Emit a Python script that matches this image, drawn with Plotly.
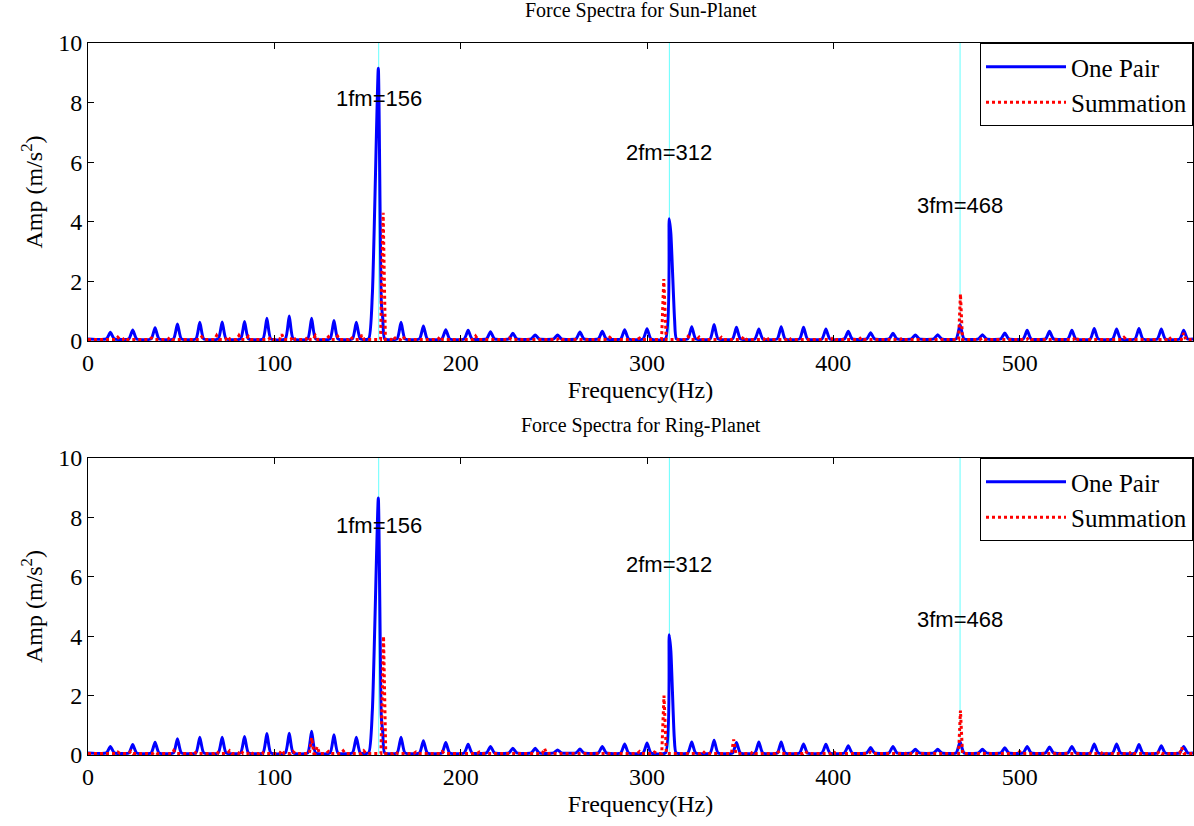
import plotly.graph_objects as go

# ---------------- data ----------------
X_MAX = 593

# sideband peak frequencies (Hz), excluding the mesh harmonics
sideband_freq = [12, 24, 36, 48, 60, 72, 84, 96, 108, 120, 132, 144,
                 168, 180, 192, 204, 216, 228, 240, 252, 264, 276, 288, 300,
                 324, 336, 348, 360, 372, 384, 396, 408, 420, 432, 444, 456, 468,
                 480, 492, 504, 516, 528, 540, 552, 564, 576, 588]

sun_one_sideband_amp = [0.29, 0.37, 0.44, 0.57, 0.63, 0.64, 0.65, 0.76, 0.84, 0.76, 0.69, 0.63,
                        0.63, 0.50, 0.38, 0.36, 0.31, 0.26, 0.20, 0.20, 0.30, 0.33, 0.38, 0.41,
                        0.48, 0.55, 0.46, 0.40, 0.48, 0.46, 0.40, 0.33, 0.28, 0.26, 0.20, 0.21, 0.55,
                        0.21, 0.27, 0.36, 0.33, 0.36, 0.42, 0.40, 0.42, 0.40, 0.36]

ring_one_sideband_amp = [0.29, 0.35, 0.43, 0.55, 0.60, 0.60, 0.62, 0.72, 0.73, 0.80, 0.68, 0.60,
                         0.60, 0.48, 0.42, 0.36, 0.29, 0.23, 0.23, 0.17, 0.20, 0.29, 0.37, 0.40,
                         0.44, 0.50, 0.42, 0.44, 0.44, 0.37, 0.36, 0.31, 0.25, 0.29, 0.19, 0.19, 0.45,
                         0.19, 0.24, 0.29, 0.27, 0.29, 0.37, 0.37, 0.35, 0.31, 0.29]

# main mesh-harmonic peaks (vertices) - One Pair
sun_one_main_freq = [[150.6, 152.6, 155.8, 157.4, 158.2, 159.2],
                     [309.9, 311.9, 312.8, 314.8, 315.8]]
sun_one_main_amp = [[0.07, 1.57, 9.15, 1.30, 0.75, 0.07],
                    [0.07, 4.10, 3.60, 0.70, 0.07]]
ring_one_main_freq = [[150.6, 152.6, 155.8, 157.4, 158.2, 159.2],
                      [309.9, 311.9, 312.8, 314.6, 315.6]]
ring_one_main_amp = [[0.07, 1.50, 8.65, 1.30, 0.75, 0.07],
                     [0.07, 4.05, 3.50, 0.60, 0.07]]

# main peaks (vertices) - Summation
sun_sum_main_freq = [[157.0, 158.4, 159.6], [307.8, 309.0, 310.3], [467.2, 468.2, 469.3]]
sun_sum_main_amp = [[0.05, 4.30, 0.05], [0.05, 2.08, 0.05], [0.05, 1.58, 0.05]]
ring_sum_main_freq = [[157.2, 158.6, 159.8], [307.9, 309.1, 310.4], [467.2, 468.2, 469.3]]
ring_sum_main_amp = [[0.05, 4.00, 0.05], [0.05, 2.00, 0.05], [0.05, 1.50, 0.05]]

# small bumps of the Summation spectra
sun_sum_bump_freq = [16, 20, 34, 44, 61, 69, 75, 81, 86, 98, 104, 110, 118, 122, 129, 134, 141, 147,
                     164, 169, 189, 208, 226, 253, 280, 296, 322, 328, 340, 352, 364, 376, 400,
                     415, 437, 480, 505, 530, 556, 580, 588]
sun_sum_bump_amp = [0.13, 0.12, 0.10, 0.12, 0.14, 0.18, 0.15, 0.18, 0.15, 0.12, 0.22, 0.15, 0.14, 0.18,
                    0.14, 0.16, 0.14, 0.20, 0.15, 0.15, 0.15, 0.16, 0.10, 0.10, 0.12, 0.10, 0.15, 0.13,
                    0.12, 0.15, 0.14, 0.12, 0.12, 0.12, 0.10, 0.10, 0.12, 0.14, 0.12, 0.14, 0.27]
ring_sum_bump_freq = [16, 23, 36, 46, 57, 69, 76, 82, 87, 93, 104, 110, 120, 123, 129, 137, 148,
                      165, 176, 190, 210, 245, 296, 304, 330, 346.5, 357, 370, 385, 400, 420, 440,
                      500, 520, 545, 560, 575, 587]
ring_sum_bump_amp = [0.10, 0.13, 0.10, 0.15, 0.12, 0.12, 0.14, 0.15, 0.12, 0.12, 0.16, 0.12, 0.58, 0.28,
                     0.12, 0.14, 0.14, 0.10, 0.10, 0.12, 0.10, 0.22, 0.12, 0.10, 0.12, 0.52, 0.12, 0.14,
                     0.12, 0.12, 0.10, 0.10, 0.12, 0.10, 0.12, 0.12, 0.12, 0.25]

one_pair_base = 0.07
sum_base = 0.05

harmonic_freq = [156, 312, 468]
harmonic_labels = ["1fm=156", "2fm=312", "3fm=468"]
sun_label_amp = [8.15, 6.33, 4.55]
ring_label_amp = [7.74, 6.43, 4.55]

y_ticks = [0, 2, 4, 6, 8, 10]
x_ticks = [0, 100, 200, 300, 400, 500]


def build(peak_f, peak_a, hw, main_f, main_a, base):
    verts = [(0.0, base), (float(X_MAX), base)]
    for f, a in zip(peak_f, peak_a):
        verts += [(f - hw, base), (f, a), (f + hw, base)]
    for mf, ma in zip(main_f, main_a):
        verts += list(zip(mf, ma))
    verts.sort(key=lambda v: v[0])
    return [v[0] for v in verts], [v[1] for v in verts]


sun_one_x, sun_one_y = build(sideband_freq, sun_one_sideband_amp, 2.1,
                             sun_one_main_freq, sun_one_main_amp, one_pair_base)
ring_one_x, ring_one_y = build(sideband_freq, ring_one_sideband_amp, 2.1,
                               ring_one_main_freq, ring_one_main_amp, one_pair_base)
sun_sum_x, sun_sum_y = build(sun_sum_bump_freq, sun_sum_bump_amp, 1.2,
                             sun_sum_main_freq, sun_sum_main_amp, sum_base)
ring_sum_x, ring_sum_y = build(ring_sum_bump_freq, ring_sum_bump_amp, 1.2,
                               ring_sum_main_freq, ring_sum_main_amp, sum_base)

# ---------------- figure ----------------
SERIF = "Liberation Serif"
SANS = "Liberation Sans"
BLUE = "#0000FF"
RED = "#FF0000"

blue_line = dict(color=BLUE, width=3, shape="spline", smoothing=0.5)
red_line = dict(color=RED, width=3, dash="3px,3px")

fig = go.Figure()
fig.add_trace(go.Scatter(x=sun_one_x, y=sun_one_y, mode="lines", name="One Pair",
                         line=blue_line, xaxis="x", yaxis="y", legend="legend"))
fig.add_trace(go.Scatter(x=sun_sum_x, y=sun_sum_y, mode="lines", name="Summation",
                         line=red_line, xaxis="x", yaxis="y", legend="legend"))
fig.add_trace(go.Scatter(x=ring_one_x, y=ring_one_y, mode="lines", name="One Pair",
                         line=blue_line, xaxis="x2", yaxis="y2", legend="legend2"))
fig.add_trace(go.Scatter(x=ring_sum_x, y=ring_sum_y, mode="lines", name="Summation",
                         line=red_line, xaxis="x2", yaxis="y2", legend="legend2"))


def axis(**kw):
    d = dict(showline=True, linecolor="black", linewidth=1, mirror="ticks",
             ticks="inside", ticklen=6, tickcolor="black", showgrid=False, zeroline=False,
             tickfont=dict(family=SERIF, size=24, color="black"))
    d.update(kw)
    return d


top_dom = [0.5815, 1.0]
bot_dom = [0.0, 0.4171]
title_font = dict(family=SERIF, size=24, color="black")
legend_common = dict(x=1, xanchor="right", yanchor="top", bgcolor="white",
                     bordercolor="black", borderwidth=1, itemwidth=80,
                     font=dict(family=SERIF, size=25, color="black"), tracegroupgap=0)

fig.update_layout(
    width=1194, height=826,
    margin=dict(l=88, r=1, t=43, b=71),
    paper_bgcolor="white", plot_bgcolor="white",
    xaxis=axis(range=[0, X_MAX], tickvals=x_ticks, domain=[0, 1], anchor="y",
               title=dict(text="Frequency(Hz)", font=title_font, standoff=6)),
    yaxis=axis(range=[0, 10], tickvals=y_ticks, domain=top_dom, anchor="x",
               title=dict(text="Amp (m/s<sup>2</sup>)", font=title_font, standoff=8)),
    xaxis2=axis(range=[0, X_MAX], tickvals=x_ticks, domain=[0, 1], anchor="y2",
                title=dict(text="Frequency(Hz)", font=title_font, standoff=6)),
    yaxis2=axis(range=[0, 10], tickvals=y_ticks, domain=bot_dom, anchor="x2",
                title=dict(text="Amp (m/s<sup>2</sup>)", font=title_font, standoff=8)),
    legend=dict(y=top_dom[1], **legend_common),
    legend2=dict(y=bot_dom[1], **legend_common),
    showlegend=True,
)

# harmonic marker lines
for xa, ya in (("x", "y"), ("x2", "y2")):
    for f in harmonic_freq:
        fig.add_shape(type="line", xref=xa, yref=ya + " domain", x0=f, x1=f, y0=0, y1=1,
                      line=dict(color="#66FFFF", width=1), layer="below")

# harmonic labels
for xa, ya, amps in (("x", "y", sun_label_amp), ("x2", "y2", ring_label_amp)):
    for f, lab, a in zip(harmonic_freq, harmonic_labels, amps):
        fig.add_annotation(x=f, y=a, xref=xa, yref=ya, text=lab, showarrow=False,
                           font=dict(family=SANS, size=22, color="black"))

# subplot titles
for xa, ya, txt in (("x", "y", "Force Spectra for Sun-Planet"), ("x2", "y2", "Force Spectra for Ring-Planet")):
    fig.add_annotation(x=0.5, y=1, xref=xa + " domain", yref=ya + " domain", text=txt,
                       showarrow=False, yanchor="bottom", yshift=19,
                       font=dict(family=SERIF, size=20, color="black"))

fig.write_html("out.html")
